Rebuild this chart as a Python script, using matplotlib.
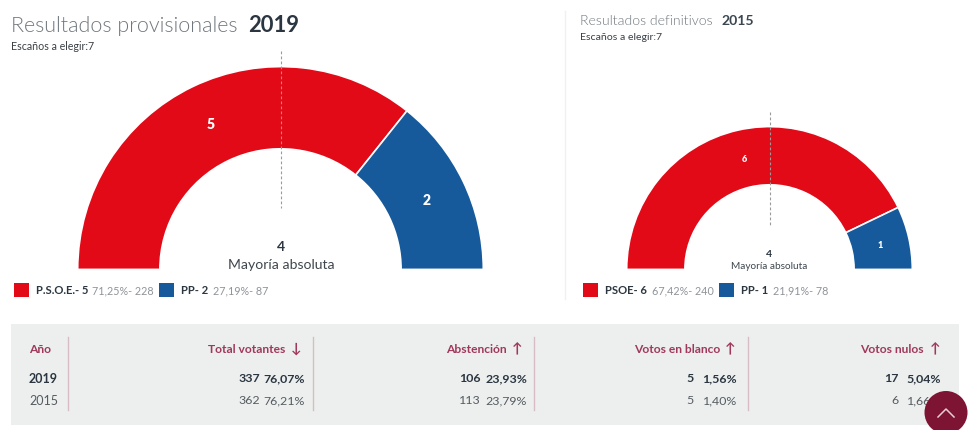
"""Resultados electorales: hemiciclos 2019 / 2015 y tabla de participacion."""

import matplotlib
matplotlib.use("Agg")
import matplotlib.pyplot as plt
import numpy as np
from matplotlib.patches import Circle, Rectangle

W, H = 978, 431
FONT = ["Lato", "DejaVu Sans"]
RED = "#e20a17"
BLUE = "#175a9c"
DARK = "#2b3640"
GREY = "#8f9499"
WINE = "#a0385a"

parties_2019 = ["P.S.O.E.", "PP"]
seats_2019 = [5, 2]
pct_2019 = ["71,25%", "27,19%"]
votes_2019 = [228, 87]

parties_2015 = ["PSOE", "PP"]
seats_2015 = [6, 1]
pct_2015 = ["67,42%", "21,91%"]
votes_2015 = [240, 78]

majority = 4

table_years = ["2019", "2015"]
table_headers = ["Total votantes", "Abstención", "Votos en blanco", "Votos nulos"]
table_arrows = ["↓", "↑", "↑", "↑"]
table_counts = [[337, 106, 5, 17], [362, 113, 5, 6]]
table_pcts = [["76,07%", "23,93%", "1,56%", "5,04%"],
              ["76,21%", "23,79%", "1,40%", "1,66%"]]


def px(size):
    """Font size from pixels to points at dpi 100."""
    return size * 0.72


def hemicycle(fig, cx, cy, r_out, r_in, seats, label_size):
    """Draw a half donut as a pie whose lower half is transparent."""
    ax = fig.add_axes([(cx - r_out) / W, 1 - (cy + r_out) / H,
                       2 * r_out / W, 2 * r_out / H])
    colors = [RED, BLUE, "none"]
    wedges, _ = ax.pie(seats + [sum(seats)], colors=colors, startangle=180,
                       counterclock=False, radius=1,
                       wedgeprops=dict(width=1 - r_in / r_out,
                                       edgecolor="none"))
    ax.set_xlim(-1, 1)
    ax.set_ylim(-1, 1)
    ax.axis("off")
    for w in wedges[:2]:
        w.set_edgecolor("white")
        w.set_linewidth(1.2)
    mid_r = (r_out + r_in) / 2 / r_out
    for w, n in zip(wedges[:2], seats):
        a = np.deg2rad((w.theta1 + w.theta2) / 2)
        ax.text(mid_r * np.cos(a), mid_r * np.sin(a), str(n), color="white",
                ha="center", va="center", fontweight="heavy",
                fontsize=px(label_size), family=FONT)
    return ax


def legend(bg, x_items, y, parties, seats, pcts, votes):
    for (xs, xn, xd), p, s, c, v, col in zip(x_items, parties, seats, pcts,
                                             votes, [RED, BLUE]):
        bg.add_patch(Rectangle((xs, y - 7), 14.5, 14.5, color=col, lw=0))
        bg.text(xn, y, f"{p}- {s}", color=DARK, fontweight="bold",
                fontsize=px(11.3), va="center", family=FONT)
        bg.text(xd, y + 0.5, f"{c}- {v}", color=GREY, fontsize=px(10.7),
                va="center", family=FONT)


fig = plt.figure(figsize=(W / 100, H / 100), dpi=100, facecolor="white")

bg = fig.add_axes([0, 0, 1, 1])
bg.set_xlim(0, W)
bg.set_ylim(H, 0)
bg.axis("off")

# cabeceras
bg.text(11, 26.5, "Resultados provisionales", color="#6f777c", fontsize=px(21.5),
        fontweight=300, va="center", family=FONT)
bg.text(248, 26, "2019", color=DARK, fontsize=px(22), fontweight="bold",
        va="center", family=FONT)
bg.text(11, 46, "Escaños a elegir:7", color="#3a4046", fontsize=px(10.6),
        va="center", family=FONT)
bg.text(580, 21, "Resultados definitivos", color="#6f777c", fontsize=px(14),
        fontweight=300, va="center", family=FONT)
bg.text(721, 21, "2015", color="#3a4650", fontsize=px(14), fontweight="bold",
        va="center", family=FONT)
bg.text(580, 37, "Escaños a elegir:7", color="#3a4046", fontsize=px(10.5),
        va="center", family=FONT)
bg.plot([565, 565], [12, 300], color="#f0f0f0", lw=1)

hemicycle(fig, 280.5, 270.4, 202.8, 120.6, seats_2019, 14)
hemicycle(fig, 769.5, 270.4, 142.8, 84.6, seats_2015, 9)

top = fig.add_axes([0, 0, 1, 1])
top.set_xlim(0, W)
top.set_ylim(H, 0)
top.axis("off")
top.patch.set_alpha(0)

top.plot([280.5, 280.5], [52, 209], color="#9a9a9a", lw=0.8, ls=(0, (2.5, 2)))
top.plot([769.5, 769.5], [113, 228], color="#9a9a9a", lw=0.8, ls=(0, (2.5, 2)))

top.text(281, 247, str(majority), color=DARK, fontweight="bold",
         fontsize=px(14), ha="center", va="center", family=FONT)
top.text(281, 265, "Mayoría absoluta", color="#3f474e", fontsize=px(14),
         ha="center", va="center", family=FONT)
top.text(769.5, 255, str(majority), color=DARK, fontweight="bold",
         fontsize=px(10.5), ha="center", va="center", family=FONT)
top.text(769.5, 266.5, "Mayoría absoluta", color="#3f474e", fontsize=px(10),
         ha="center", va="center", family=FONT)

legend(top, [(14, 36, 92), (159, 181, 213)], 290.5, parties_2019, seats_2019,
       pct_2019, votes_2019)
legend(top, [(583, 605, 652), (719, 741, 773)], 290.5, parties_2015, seats_2015,
       pct_2015, votes_2015)

# tabla
top.add_patch(Rectangle((11, 324.7), 948, 101, color="#ecefee", lw=0))
for x in [68, 313, 534, 748]:
    top.plot([x, x], [338, 411], color="#d8bcc4", lw=1)

top.text(29, 349.5, "Año", color=WINE, fontweight="bold", fontsize=px(12),
         va="center", family=FONT)
for yr, y, w, c in zip(table_years, [379, 401], ["bold", "normal"], [DARK, "#555b60"]):
    top.text(29, y, yr, color=c, fontweight=w, fontsize=px(12.5), va="center",
             family=FONT)

header_right = [285, 507, 720, 924]
arrow_x = [296, 517, 730, 935]
count_right = [260, 481, 694, 899]
pct_right = [305, 527, 737, 941]
for i, head in enumerate(table_headers):
    top.text(header_right[i], 349.5, head, color=WINE, fontweight="bold",
             fontsize=px(12), ha="right", va="center", family=FONT)
    top.text(arrow_x[i], 349, table_arrows[i], color=WINE, fontsize=px(14),
             fontweight="bold", ha="center", va="center", family=FONT)
    for row, y in enumerate([379, 401]):
        w = "bold" if row == 0 else "normal"
        c = DARK if row == 0 else "#555b60"
        top.text(count_right[i], y, str(table_counts[row][i]), color=c,
                 fontweight=w, fontsize=px(12.4), ha="right", va="center",
                 family=FONT)
        top.text(pct_right[i], y, table_pcts[row][i], color=c, fontweight=w,
                 fontsize=px(12.4), ha="right", va="center", family=FONT)

# boton volver arriba
top.add_patch(Circle((946, 413.5), 21.5, color="#7d1433", lw=0, zorder=5))
top.plot([938, 946, 954], [418, 410, 418], color="#e8cdd5", lw=1.1, zorder=6)

fig.savefig("out.png", dpi=100)
plt.close(fig)
